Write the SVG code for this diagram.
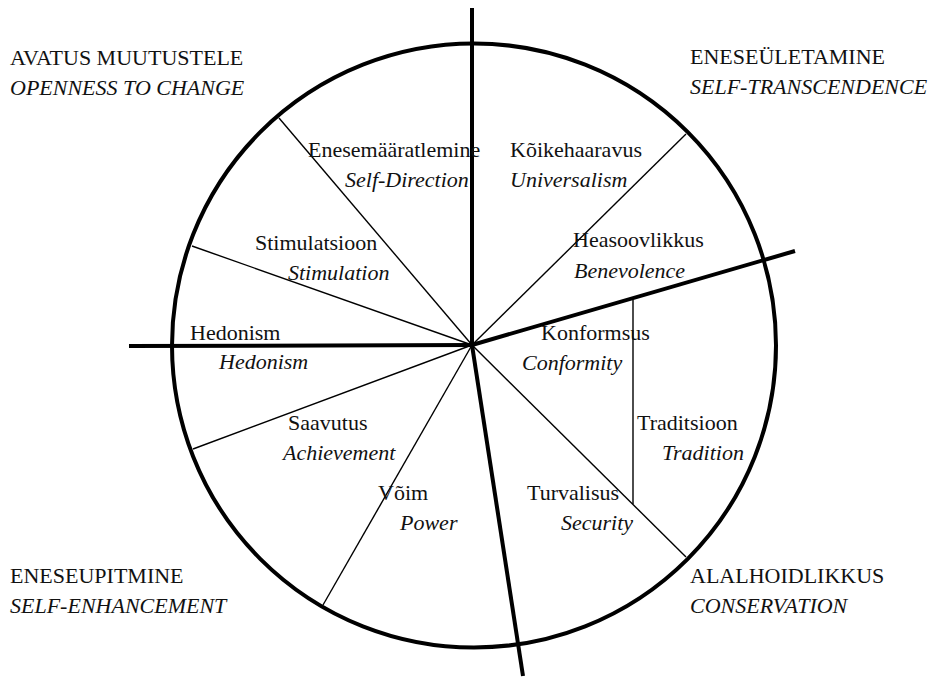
<svg xmlns="http://www.w3.org/2000/svg" width="943" height="684" viewBox="0 0 943 684">
<style>
.t{font-family:'Liberation Serif','Tinos','Nimbus Roman','Times New Roman','DejaVu Serif','Noto Serif',serif;font-size:22px;fill:#111}
.i{font-style:italic}
.thick{stroke:#000;stroke-width:4;fill:none}
.thin{stroke:#000;stroke-width:1.4;fill:none}
</style>
<rect width="943" height="684" fill="#fff"/>
<circle id="wheel" cx="474" cy="345.5" r="302" class="thick"/>
<g id="connectors">
<line class="thick" x1="472" y1="8" x2="472" y2="346"/>
<line class="thick" x1="129" y1="346" x2="472" y2="345"/>
<line class="thick" x1="472" y1="345" x2="795" y2="251"/>
<line class="thick" x1="472" y1="345" x2="523" y2="676"/>
<line class="thin" x1="472" y1="345" x2="279" y2="118"/>
<line class="thin" x1="472" y1="345" x2="686" y2="134"/>
<line class="thin" x1="472" y1="345" x2="192" y2="246"/>
<line class="thin" x1="472" y1="345" x2="193" y2="449"/>
<line class="thin" x1="472" y1="345" x2="323" y2="605"/>
<line class="thin" x1="472" y1="345" x2="686" y2="557"/>
<line class="thin" x1="633" y1="300" x2="633" y2="504"/>
</g>
<g id="openness"><text class="t" x="10" y="65">AVATUS MUUTUSTELE</text><text class="t i" x="10" y="95">OPENNESS TO CHANGE</text></g>
<g id="transcendence"><text class="t" x="690" y="64">ENESEÜLETAMINE</text><text class="t i" x="690" y="94">SELF-TRANSCENDENCE</text></g>
<g id="enhancement"><text class="t" x="10" y="583">ENESEUPITMINE</text><text class="t i" x="10" y="613">SELF-ENHANCEMENT</text></g>
<g id="conservation"><text class="t" x="690" y="583">ALALHOIDLIKKUS</text><text class="t i" x="690" y="613">CONSERVATION</text></g>
<g id="self-direction"><text class="t" x="308" y="157">Enesemääratlemine</text><text class="t i" x="345" y="187">Self-Direction</text></g>
<g id="universalism"><text class="t" x="510" y="157">Kõikehaaravus</text><text class="t i" x="510" y="187">Universalism</text></g>
<g id="stimulation"><text class="t" x="255" y="250">Stimulatsioon</text><text class="t i" x="288" y="280">Stimulation</text></g>
<g id="benevolence"><text class="t" x="573" y="247">Heasoovlikkus</text><text class="t i" x="574" y="278">Benevolence</text></g>
<g id="hedonism"><text class="t" x="190" y="340">Hedonism</text><text class="t i" x="219" y="369">Hedonism</text></g>
<g id="conformity"><text class="t" x="541" y="340">Konformsus</text><text class="t i" x="522" y="370">Conformity</text></g>
<g id="achievement"><text class="t" x="288" y="430">Saavutus</text><text class="t i" x="283" y="460">Achievement</text></g>
<g id="tradition"><text class="t" x="637" y="430">Traditsioon</text><text class="t i" x="662" y="460">Tradition</text></g>
<g id="power"><text class="t" x="378" y="500">Võim</text><text class="t i" x="400" y="530">Power</text></g>
<g id="security"><text class="t" x="527" y="500">Turvalisus</text><text class="t i" x="561" y="530">Security</text></g>
</svg>
